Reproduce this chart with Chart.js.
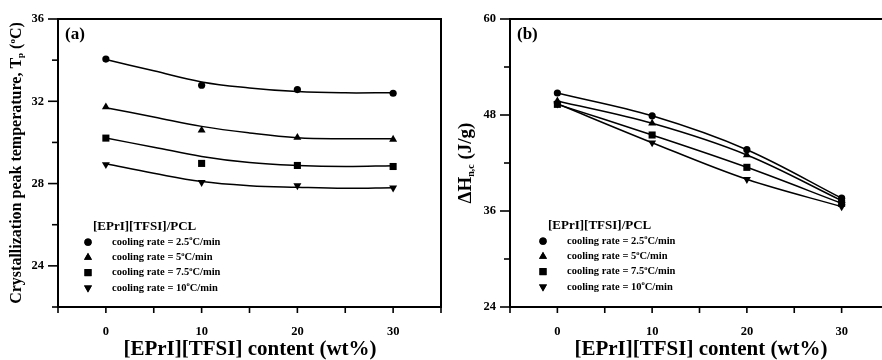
<!DOCTYPE html>
<html>
<head>
<meta charset="utf-8">
<script src="https://cdn.jsdelivr.net/npm/chart.js@4.4.0/dist/chart.umd.min.js"></script>
<style>
  html, body { margin: 0; padding: 0; background: #fff; overflow: hidden; width: 882px; height: 360px; }
  .panel { position: absolute; top: 0; height: 360px; }
  #boxA { left: 0; width: 446px; }
  #boxB { left: 441px; width: 453px; }
</style>
</head>
<body>
<div class="panel" id="boxA"><canvas id="chartA"></canvas></div>
<div class="panel" id="boxB"><canvas id="chartB"></canvas></div>
<script>
// IL content (wt%)
const xContent = [0, 10, 20, 30];

// (a) crystallization peak temperature Tp (°C), measured points
const tpRate25 = [34.05, 32.78, 32.57, 32.39];
const tpRate5 = [31.72, 30.59, 30.24, 30.15];
const tpRate75 = [30.21, 28.98, 28.88, 28.83];
const tpRate10 = [28.93, 28.06, 27.90, 27.79];

// (a) fitted curves, every 5 wt%
const fitX = [0, 5, 10, 15, 20, 25, 30];
const tpFit25 = [34.03, 33.48, 32.94, 32.65, 32.47, 32.41, 32.42];
const tpFit5 = [31.69, 31.24, 30.78, 30.46, 30.23, 30.18, 30.18];
const tpFit75 = [30.21, 29.77, 29.32, 29.02, 28.88, 28.83, 28.87];
const tpFit10 = [28.96, 28.50, 28.10, 27.90, 27.82, 27.77, 27.80];

// (b) enthalpy ΔHn,c (J/g)
const dhRate25 = [50.75, 47.9, 43.66, 37.6];
const dhRate5 = [49.75, 46.96, 43.0, 37.3];
const dhRate75 = [49.33, 45.5, 41.46, 36.96];
const dhRate10 = [49.4, 44.54, 39.96, 36.54];

const rateNames = ['2.5', '5', '7.5', '10'];
const xTickLabels = [0, 10, 20, 30];
const yTickLabelsA = [24, 28, 32, 36];
const yTickLabelsB = [24, 36, 48, 60];

const FONT = '"Liberation Serif", "Times New Roman", serif';
const markers = [
    { pointStyle: 'circle', rotation: 0, radius: 3.6 },
    { pointStyle: 'triangle', rotation: 0, radius: 4.6 },
    { pointStyle: 'rect', rotation: 0, radius: 5 },
    { pointStyle: 'triangle', rotation: 180, radius: 4.6 }
];

function pointSets(series, withLine) {
    return series.map((vals, i) => ({
        label: 'cooling rate = ' + rateNames[i] + '°C/min',
        data: xContent.map((x, j) => ({ x: x, y: vals[j] })),
        showLine: withLine,
        tension: 0.35,
        borderColor: '#000',
        borderWidth: 1.5,
        backgroundColor: '#000',
        pointBackgroundColor: '#000',
        pointBorderColor: '#000',
        pointBorderWidth: 0,
        pointStyle: markers[i].pointStyle,
        rotation: markers[i].rotation,
        pointRadius: markers[i].radius,
        pointHoverRadius: markers[i].radius
    }));
}

function fitSets(series) {
    return series.map(vals => ({
        label: 'fit',
        data: fitX.map((x, j) => ({ x: x, y: vals[j] })),
        showLine: true,
        tension: 0.4,
        borderColor: '#000',
        borderWidth: 1.5,
        pointRadius: 0,
        pointHoverRadius: 0
    }));
}

function richWidth(ctx, segs) {
    let w = 0;
    segs.forEach(s => {
        ctx.font = 'bold ' + s.s + 'px ' + FONT;
        w += ctx.measureText(s.t).width;
    });
    return w;
}

function drawRich(ctx, segs, x, y) {
    ctx.textBaseline = 'middle';
    ctx.textAlign = 'left';
    segs.forEach(s => {
        ctx.font = 'bold ' + s.s + 'px ' + FONT;
        ctx.fillText(s.t, x, y + (s.dy || 0));
        x += ctx.measureText(s.t).width;
    });
}

function drawMarker(ctx, m, x, y) {
    ctx.fillStyle = '#000';
    ctx.strokeStyle = '#000';
    Chart.helpers.drawPoint(ctx, { pointStyle: m.pointStyle, rotation: m.rotation, radius: m.radius, borderWidth: 0 }, x, y);
    ctx.fill();
}

// frame, tick marks, panel label, legend and titles
const decor = {
    id: 'decor',
    afterDraw(chart, args, o) {
        const ctx = chart.ctx;
        const a = chart.chartArea;
        const xs = chart.scales.x, ys = chart.scales.y;
        ctx.save();
        ctx.strokeStyle = '#000';
        ctx.fillStyle = '#000';
        ctx.lineWidth = 2;
        // top / right frame
        ctx.beginPath();
        ctx.moveTo(a.left, a.top);
        ctx.lineTo(a.right, a.top);
        if (o.rightFrame) ctx.lineTo(a.right, a.bottom);
        ctx.stroke();
        // tick marks
        ctx.lineWidth = 1.6;
        ys.ticks.forEach(t => {
            const py = ys.getPixelForValue(t.value);
            const len = o.yLabels.includes(t.value) ? 10 : 6;
            ctx.beginPath();
            ctx.moveTo(a.left - len, py);
            ctx.lineTo(a.left, py);
            ctx.stroke();
        });
        xs.ticks.forEach(t => {
            const px = xs.getPixelForValue(t.value);
            ctx.beginPath();
            ctx.moveTo(px, a.bottom);
            ctx.lineTo(px, a.bottom + 6);
            ctx.stroke();
        });
        // panel label
        ctx.font = 'bold 17px ' + FONT;
        ctx.textBaseline = 'middle';
        ctx.textAlign = 'left';
        ctx.fillText(o.tag, a.left + 7, a.top + 16);
        // legend
        const lg = o.legend;
        ctx.font = 'bold 13px ' + FONT;
        ctx.fillText('[EPrI][TFSI]/PCL', lg.x + 5, lg.y);
        rateNames.forEach((r, i) => {
            const ry = lg.y + 15.2 * (i + 1);
            drawMarker(ctx, markers[i], lg.x, ry);
            drawRich(ctx, [
                { t: 'cooling rate = ' + r, s: 10.5 },
                { t: 'o', s: 6.5, dy: -3.5 },
                { t: 'C/min', s: 10.5 }
            ], lg.x + 24, ry);
        });
        // x title
        ctx.font = 'bold 21px ' + FONT;
        ctx.textAlign = 'center';
        ctx.fillText('[EPrI][TFSI] content (wt%)', o.xTitleX, 350);
        // y title (rotated)
        const w = richWidth(ctx, o.yTitle);
        ctx.translate(o.yTitleX, (a.top + a.bottom) / 2);
        ctx.rotate(-Math.PI / 2);
        drawRich(ctx, o.yTitle, -w / 2, 0);
        ctx.restore();
    }
};

function makeOptions(yMin, yMax, yStep, yLabels, axisW, extra) {
    return {
        responsive: false,
        animation: false,
        layout: { padding: { top: 19, right: extra.padRight, left: 0, bottom: 0 } },
        plugins: {
            legend: { display: false },
            tooltip: { enabled: false },
            decor: extra.decor
        },
        scales: {
            x: {
                type: 'linear',
                min: -5, max: 35,
                grid: { display: false, drawTicks: true, tickLength: 17 },
                border: { display: true, color: '#000', width: 2 },
                ticks: {
                    stepSize: 5,
                    padding: 0,
                    maxRotation: 0,
                    autoSkip: false,
                    color: '#000',
                    font: { family: FONT, size: 12.5, weight: 'bold' },
                    callback: v => xTickLabels.includes(v) ? String(v) : ''
                },
                afterFit: s => { s.height = 53; }
            },
            y: {
                min: yMin, max: yMax,
                grid: { display: false, drawTicks: true, tickLength: 14 },
                border: { display: true, color: '#000', width: 2 },
                ticks: {
                    stepSize: yStep,
                    padding: 0,
                    autoSkip: false,
                    color: '#000',
                    font: { family: FONT, size: 12.5, weight: 'bold' },
                    callback: v => yLabels.includes(v) ? String(v) : ''
                },
                afterFit: s => { s.width = axisW; }
            }
        }
    };
}

const cA = document.getElementById('chartA');
cA.width = 446; cA.height = 360;
new Chart(cA, {
    type: 'scatter',
    data: {
        datasets: fitSets([tpFit25, tpFit5, tpFit75, tpFit10])
            .concat(pointSets([tpRate25, tpRate5, tpRate75, tpRate10], false))
    },
    options: makeOptions(22, 36, 2, yTickLabelsA, 58, {
        padRight: 4,
        decor: {
            tag: '(a)',
            rightFrame: true,
            yLabels: yTickLabelsA,
            legend: { x: 88, y: 227 },
            xTitleX: 250,
            yTitleX: 17,
            yTitle: [
                { t: 'Crystallization peak temperature, T', s: 16 },
                { t: 'p', s: 9, dy: 4 },
                { t: ' (', s: 16 },
                { t: 'o', s: 9, dy: -4.5 },
                { t: 'C)', s: 16 }
            ]
        }
    }),
    plugins: [decor]
});

const cB = document.getElementById('chartB');
cB.width = 453; cB.height = 360;
new Chart(cB, {
    type: 'scatter',
    data: { datasets: pointSets([dhRate25, dhRate5, dhRate75, dhRate10], true) },
    options: makeOptions(24, 60, 6, yTickLabelsB, 69, {
        padRight: 0,
        decor: {
            tag: '(b)',
            rightFrame: false,
            yLabels: yTickLabelsB,
            legend: { x: 102, y: 226 },
            xTitleX: 260,
            yTitleX: 25,
            yTitle: [
                { t: 'ΔH', s: 19 },
                { t: 'n,c', s: 10, dy: 5 },
                { t: ' (J/g)', s: 19 }
            ]
        }
    }),
    plugins: [decor]
});
</script>
</body>
</html>
